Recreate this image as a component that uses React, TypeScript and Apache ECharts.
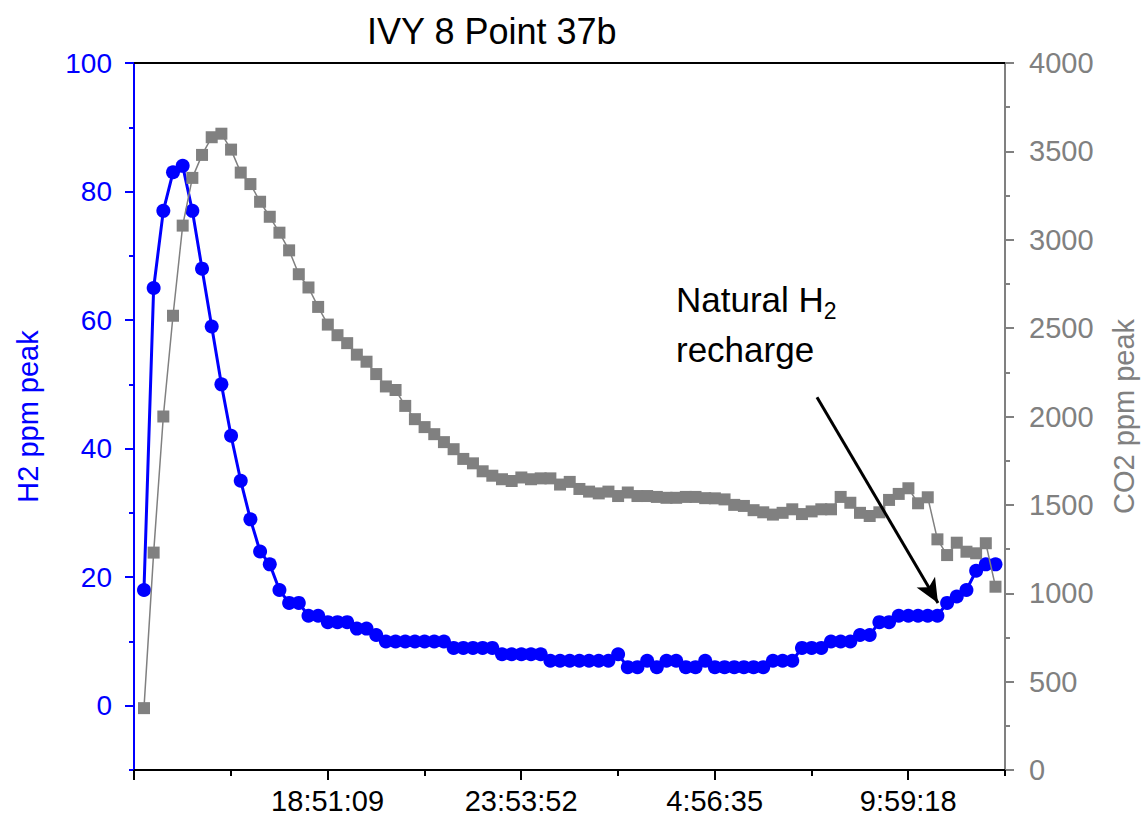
import React, { useEffect, useRef } from "react";
import * as echarts from "echarts";

// ---------------- data ----------------
const chartTitle = "IVY 8 Point 37b";
const axisStartTime = "13:48:26";
const axisEndTime = "12:30:39";
const xMajorTicks = ["13:48:26", "18:51:09", "23:53:52", "4:56:35", "9:59:18"];
const xTickLabels = ["18:51:09", "23:53:52", "4:56:35", "9:59:18"];

const sampleTimes = [
  "14:04:02", "14:19:10", "14:34:18", "14:49:26", "15:04:34", "15:19:42", "15:34:50", "15:49:58", "16:05:06", "16:20:14",
  "16:35:22", "16:50:30", "17:05:38", "17:20:46", "17:35:54", "17:51:02", "18:06:10", "18:21:18", "18:36:26", "18:51:34",
  "19:06:42", "19:21:50", "19:36:58", "19:52:06", "20:07:14", "20:22:22", "20:37:30", "20:52:38", "21:07:46", "21:22:54",
  "21:38:02", "21:53:10", "22:08:18", "22:23:26", "22:38:34", "22:53:42", "23:08:50", "23:23:58", "23:39:06", "23:54:14",
  "00:09:22", "00:24:30", "00:39:38", "00:54:46", "01:09:54", "01:25:02", "01:40:10", "01:55:18", "02:10:26", "02:25:34",
  "02:40:42", "02:55:50", "03:10:58", "03:26:06", "03:41:14", "03:56:22", "04:11:30", "04:26:38", "04:41:46", "04:56:54",
  "05:12:02", "05:27:10", "05:42:18", "05:57:26", "06:12:34", "06:27:42", "06:42:50", "06:57:58", "07:13:06", "07:28:14",
  "07:43:22", "07:58:30", "08:13:38", "08:28:46", "08:43:54", "08:59:02", "09:14:10", "09:29:18", "09:44:26", "09:59:34",
  "10:14:42", "10:29:50", "10:44:58", "11:00:06", "11:15:14", "11:30:22", "11:45:30", "12:00:38", "12:15:46",
];

const h2Values = [
  18, 65, 77, 83, 84, 77, 68, 59, 50, 42,
  35, 29, 24, 22, 18, 16, 16, 14, 14, 13,
  13, 13, 12, 12, 11, 10, 10, 10, 10, 10,
  10, 10, 9, 9, 9, 9, 9, 8, 8, 8,
  8, 8, 7, 7, 7, 7, 7, 7, 7, 8,
  6, 6, 7, 6, 7, 7, 6, 6, 7, 6,
  6, 6, 6, 6, 6, 7, 7, 7, 9, 9,
  9, 10, 10, 10, 11, 11, 13, 13, 14, 14,
  14, 14, 14, 16, 17, 18, 21, 22, 22,
];

const co2Values = [
  350, 1230, 2000, 2570, 3080, 3350, 3480, 3580, 3600, 3510,
  3380, 3315, 3215, 3130, 3040, 2940, 2805, 2730, 2620, 2520,
  2460, 2415, 2350, 2310, 2240, 2170, 2150, 2060, 1985, 1940,
  1900, 1855, 1815, 1760, 1735, 1690, 1665, 1645, 1635, 1655,
  1645, 1650, 1650, 1615, 1630, 1590, 1575, 1565, 1575, 1550,
  1570, 1550, 1550, 1545, 1540, 1540, 1545, 1545, 1538, 1537,
  1531, 1500, 1494, 1470, 1458, 1445, 1455, 1475, 1448, 1463,
  1475, 1475, 1545, 1512, 1455, 1437, 1458, 1528, 1562, 1594,
  1509, 1543, 1305, 1216, 1286, 1235, 1226, 1283, 1037,
];

const h2Ticks = [0, 20, 40, 60, 80, 100];
const h2MinorTicks = [-10, 10, 30, 50, 70, 90];

const arrowFrom = { time: "07:36:36", h2: 48 };
const arrowTo = { time: "10:45:51", h2: 16 };

// ---------------- helpers ----------------
const FONT = "'Liberation Sans', Arial, sans-serif";
const BLUE = "#0000ff";
const GRAY = "#808080";

const toSec = (t: string) => {
  const [h, m, s] = t.split(":").map(Number);
  return h * 3600 + m * 60 + (s || 0);
};
const START = toSec(axisStartTime);
const toOffset = (t: string) => {
  let d = toSec(t) - START;
  if (d < 0) d += 86400;
  return d;
};
const fmtTime = (off: number) => {
  const s = Math.round(off + START) % 86400;
  const h = Math.floor(s / 3600);
  const m = Math.floor((s % 3600) / 60);
  const ss = s % 60;
  return `${h}:${String(m).padStart(2, "0")}:${String(ss).padStart(2, "0")}`;
};

const majorOffsets = xMajorTicks.map(toOffset);
const labelOffsets = xTickLabels.map(toOffset);
const xMax = toOffset(axisEndTime);
const minorOffsets = majorOffsets.map((v, i) =>
  i < majorOffsets.length - 1 ? (v + majorOffsets[i + 1]) / 2 : xMax
);

const h2Data = sampleTimes.map((t, i) => [toOffset(t), h2Values[i]]);
const co2Data = sampleTimes.map((t, i) => [toOffset(t), co2Values[i]]);

export default function App() {
  const ref = useRef<HTMLDivElement>(null);
  useEffect(() => {
    const chart = echarts.init(ref.current!, null, { renderer: "svg" });
    const option: any = {
      animation: false,
      backgroundColor: "#ffffff",
      title: {
        text: chartTitle,
        left: 362,
        top: 8,
        textStyle: { fontFamily: FONT, fontSize: 36, fontWeight: "normal", color: "#000" },
      },
      grid: { left: 134, right: 143, top: 63, bottom: 46, containLabel: false },
      xAxis: [
        {
          type: "value",
          position: "bottom",
          min: 0,
          max: xMax,
          axisLine: { show: true, onZero: false, lineStyle: { color: "#000", width: 2 } },
          axisTick: { show: true, inside: false, length: 10, customValues: majorOffsets, lineStyle: { color: "#000", width: 2 } },
          axisLabel: {
            customValues: labelOffsets,
            formatter: (v: number) => fmtTime(v),
            fontFamily: FONT,
            fontSize: 29,
            color: "#000",
            margin: 16,
          },
          splitLine: { show: false },
        },
        {
          type: "value",
          position: "bottom",
          min: 0,
          max: xMax,
          axisLine: { show: false, onZero: false },
          axisTick: { show: true, inside: false, length: 6, customValues: minorOffsets, lineStyle: { color: "#000", width: 2 } },
          axisLabel: { show: false },
          splitLine: { show: false },
        },
        {
          type: "value",
          position: "top",
          min: 0,
          max: xMax,
          axisLine: { show: true, onZero: false, lineStyle: { color: "#000", width: 2 } },
          axisTick: { show: false },
          axisLabel: { show: false },
          splitLine: { show: false },
        },
      ],
      yAxis: [
        {
          type: "value",
          position: "left",
          min: -10,
          max: 100,
          name: "H2 ppm peak",
          nameLocation: "middle",
          nameGap: 92,
          nameTextStyle: { fontFamily: FONT, fontSize: 29, color: BLUE },
          axisLine: { show: true, onZero: false, lineStyle: { color: BLUE, width: 2 } },
          axisTick: { show: true, inside: false, length: 9, customValues: h2Ticks, lineStyle: { color: BLUE, width: 2 } },
          axisLabel: { customValues: h2Ticks, fontFamily: FONT, fontSize: 28, color: BLUE, margin: 22 },
          splitLine: { show: false },
        },
        {
          type: "value",
          position: "right",
          min: 0,
          max: 4000,
          interval: 500,
          name: "CO2 ppm peak",
          nameLocation: "middle",
          nameGap: 104,
          nameTextStyle: { fontFamily: FONT, fontSize: 29, color: GRAY },
          axisLine: { show: true, onZero: false, lineStyle: { color: GRAY, width: 2 } },
          axisTick: { show: true, inside: false, length: 9, lineStyle: { color: GRAY, width: 2 } },
          minorTick: { show: true, splitNumber: 2, length: 5, lineStyle: { color: GRAY, width: 2 } },
          axisLabel: { fontFamily: FONT, fontSize: 29, color: GRAY, margin: 24, formatter: (v: number) => String(v) },
          splitLine: { show: false },
          minorSplitLine: { show: false },
        },
        {
          type: "value",
          position: "left",
          min: -10,
          max: 100,
          axisLine: { show: false, onZero: false },
          axisTick: { show: true, inside: false, length: 5, customValues: h2MinorTicks, lineStyle: { color: BLUE, width: 2 } },
          axisLabel: { show: false },
          splitLine: { show: false },
        },
      ],
      series: [
        {
          name: "H2",
          type: "line",
          xAxisIndex: 0,
          yAxisIndex: 0,
          data: h2Data,
          symbol: "circle",
          symbolSize: 14,
          z: 2,
          itemStyle: { color: BLUE },
          lineStyle: { color: BLUE, width: 3 },
          markLine: {
            silent: true,
            symbol: ["none", "arrow"],
            symbolSize: [16, 24],
            label: { show: false },
            lineStyle: { color: "#000", width: 3, type: "solid" },
            data: [
              [
                { coord: [toOffset(arrowFrom.time), arrowFrom.h2] },
                { coord: [toOffset(arrowTo.time), arrowTo.h2] },
              ],
            ],
          },
        },
        {
          name: "CO2",
          type: "line",
          xAxisIndex: 0,
          yAxisIndex: 1,
          data: co2Data,
          symbol: "rect",
          symbolSize: 12,
          z: 3,
          itemStyle: { color: GRAY },
          lineStyle: { color: GRAY, width: 1.5 },
        },
      ],
      graphic: [
        {
          type: "text",
          left: 676,
          top: 282,
          style: {
            text: "{a|Natural H}{s|2}\n{a|recharge}",
            fill: "#000",
            rich: {
              a: { fontFamily: FONT, fontSize: 35, lineHeight: 50, fill: "#000" },
              s: { fontFamily: FONT, fontSize: 23, padding: [22, 0, 0, 0], fill: "#000" },
            },
          },
        },
      ],
    };
    chart.setOption(option);
    return () => chart.dispose();
  }, []);
  return (
    <div
      ref={ref}
      style={{ position: "absolute", left: 0, top: 0, width: 1148, height: 816, background: "#fff" }}
    />
  );
}
